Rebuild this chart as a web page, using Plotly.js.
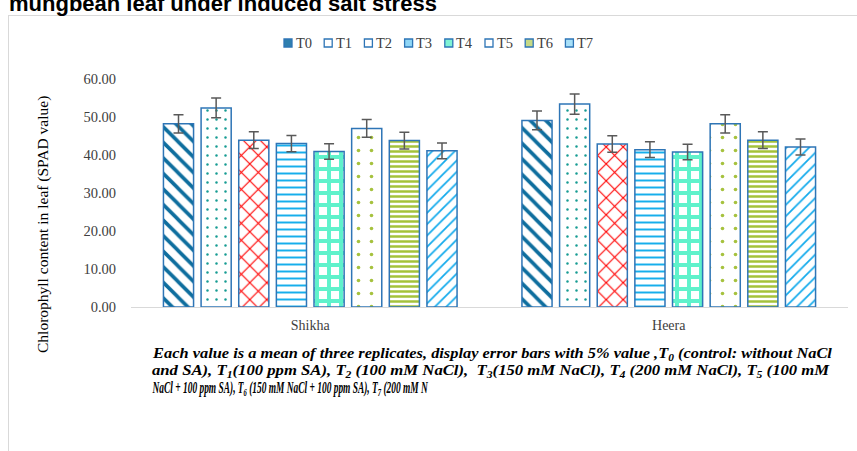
<!DOCTYPE html>
<html>
<head>
<meta charset="utf-8">
<script src="https://cdn.plot.ly/plotly-3.0.1.min.js"></script>
<style>
  html, body { margin: 0; padding: 0; background: #ffffff; overflow: hidden; }
  #frame { position: absolute; left: 8px; top: 15px; width: 1000px; height: 600px; border: 1px solid #d9d9d9; }
  #chart { position: absolute; left: 0; top: 0; width: 857px; height: 451px; }
</style>
</head>
<body>
<div id="frame"></div>
<div id="chart"></div>
<script>
// ---- data ----
const categories = ["Shikha", "Heera"];
const seriesNames = ["T0", "T1", "T2", "T3", "T4", "T5", "T6", "T7"];
const T0 = [48.2, 49.1];
const T1 = [52.4, 53.4];
const T2 = [43.9, 42.9];
const T3 = [43.0, 41.4];
const T4 = [40.9, 40.8];
const T5 = [47.0, 48.2];
const T6 = [43.8, 43.9];
const T7 = [41.1, 42.1];
const errorPercent = 5;
const yTickValues = [0, 10, 20, 30, 40, 50, 60];
const yTickLabels = ["0.00", "10.00", "20.00", "30.00", "40.00", "50.00", "60.00"];
const titleText = "mungbean leaf under induced salt stress";
const yTitleText = "Chlorophyll content in leaf (SPAD value)";
const captionLines = [
  "Each value is a mean of three replicates, display error bars with 5% value ,T<sub>0</sub> (control: without NaCl",
  "and SA), T<sub>1</sub>(100 ppm SA), T<sub>2</sub> (100 mM NaCl),  T<sub>3</sub>(150 mM NaCl), T<sub>4</sub> (200 mM NaCl), T<sub>5</sub> (100 mM",
  "NaCl + 100 ppm SA), T<sub>6</sub> (150 mM NaCl + 100 ppm SA), T<sub>7</sub> (200 mM N"
];

const allValues = [T0, T1, T2, T3, T4, T5, T6, T7];

// ---- styles ----
const patterns = [
  {shape: "\\", fgcolor: "#0E6E9E", size: 11, solidity: 0.33},
  {shape: ".",  fgcolor: "#169C93", size: 9,  solidity: 0.06},
  {shape: "x",  fgcolor: "#FF0000", size: 12, solidity: 0.18},
  {shape: "-",  fgcolor: "#16AEEC", size: 7,  solidity: 0.28},
  {shape: "+",  fgcolor: "#5FF2CB", size: 12, solidity: 0.55},
  {shape: ".",  fgcolor: "#A6C23E", size: 13, solidity: 0.06},
  {shape: "-",  fgcolor: "#A4C23A", size: 5,  solidity: 0.5},
  {shape: "/",  fgcolor: "#12AAEC", size: 8,  solidity: 0.22}
];
const legendFills = ["#2F7FAE", "#ffffff", "#ffffff", "#8FD6F6", "#7FF3D4", "#ffffff", "#C6DA86", "#A8E0F8"];

const traces = allValues.map((vals, i) => ({
  type: "bar",
  name: seriesNames[i],
  x: categories,
  y: vals,
  showlegend: false,
  marker: {
    color: "#ffffff",
    line: {color: "#2E75B6", width: 1.5},
    pattern: Object.assign({bgcolor: "#ffffff", fillmode: "replace"}, patterns[i])
  },
  error_y: {type: "percent", value: errorPercent, visible: true, color: "#595959", thickness: 1.5, width: 5}
}));

// pixel helpers for paper coordinates
const plotTop = 79, plotBottom = 307, plotLeft = 131, plotRight = 848;
const py = p => (plotBottom - p) / (plotBottom - plotTop);
const px = p => (p - plotLeft) / (plotRight - plotLeft);

const serif = "Liberation Serif, Times New Roman, serif";
const annotations = [];
const shapes = [];

// title (only its last line is visible at the top edge)
annotations.push({
  text: "<b>" + titleText + "</b>",
  xref: "paper", yref: "paper", x: px(7), y: py(3), xanchor: "left", yanchor: "middle",
  showarrow: false, font: {family: "Liberation Sans, Arial, sans-serif", size: 22, color: "#000000"}
});
// y-axis title
annotations.push({
  text: yTitleText,
  xref: "paper", yref: "paper", x: px(43), y: py(225), xanchor: "center", yanchor: "middle",
  textangle: -90, showarrow: false,
  font: {family: serif, size: 15.5, color: "#000000"}
});
// caption lines
const captionY = [354, 371, 388];
const captionSizes = [14.5, 14.5, 16];
const captionStart = annotations.length;
captionLines.forEach((ln, i) => {
  annotations.push({
    text: "<b><i>" + ln + "</i></b>",
    xref: "paper", yref: "paper", x: px(150), y: py(captionY[i]), xanchor: "left", yanchor: "middle",
    align: "left", showarrow: false,
    font: {family: serif, size: captionSizes[i], color: "#000000"}
  });
});
// legend (compact, Excel style)
const legendStart = 284, legendPitch = 40.2, legendY = 43, sq = 8;
seriesNames.forEach((nm, i) => {
  const s = legendStart + i * legendPitch;
  shapes.push({
    type: "rect", xref: "paper", yref: "paper",
    x0: px(s), x1: px(s + sq), y0: py(legendY + sq / 2), y1: py(legendY - sq / 2),
    line: {color: "#2E75B6", width: 1.3}, fillcolor: legendFills[i]
  });
  annotations.push({
    text: nm, xref: "paper", yref: "paper", x: px(s + sq + 1.5), y: py(legendY), xanchor: "left", yanchor: "middle",
    showarrow: false, font: {family: serif, size: 14.5, color: "#404040"}
  });
});

const layout = {
  width: 857,
  height: 451,
  margin: {l: plotLeft, r: 857 - plotRight, t: plotTop, b: 451 - plotBottom, pad: 0},
  paper_bgcolor: "rgba(0,0,0,0)",
  plot_bgcolor: "rgba(0,0,0,0)",
  font: {family: serif, size: 14, color: "#404040"},
  barmode: "group",
  bargap: 0.16,
  bargroupgap: 0.2,
  showlegend: false,
  xaxis: {
    type: "category",
    showline: true, linecolor: "#d9d9d9", linewidth: 1,
    showgrid: false, zeroline: false, ticks: "",
    tickfont: {family: serif, size: 14, color: "#404040"},
    ticklabelstandoff: 5
  },
  yaxis: {
    range: [0, 60],
    tickvals: yTickValues, ticktext: yTickLabels,
    showline: false, showgrid: false, zeroline: false, ticks: "",
    tickfont: {family: serif, size: 14.5, color: "#404040"},
    ticklabelstandoff: 14
  },
  shapes: shapes,
  annotations: annotations
};

// target widths of the caption lines (justified first two lines, condensed last line)
const captionWidths = [680, 679, 277];
Plotly.newPlot("chart", traces, layout, {displayModeBar: false, staticPlot: true}).then(gd => {
  captionWidths.forEach((w, i) => {
    const t = gd.querySelector('.annotation[data-index="' + (captionStart + i) + '"] text.annotation-text');
    if (t) {
      const bb = t.getBBox();
      if (bb.width > 0) {
        const s = w / bb.width;
        t.setAttribute("transform", "translate(" + bb.x + ",0) scale(" + s + ",1) translate(" + (-bb.x) + ",0)");
      }
    }
  });
});
</script>
</body>
</html>
